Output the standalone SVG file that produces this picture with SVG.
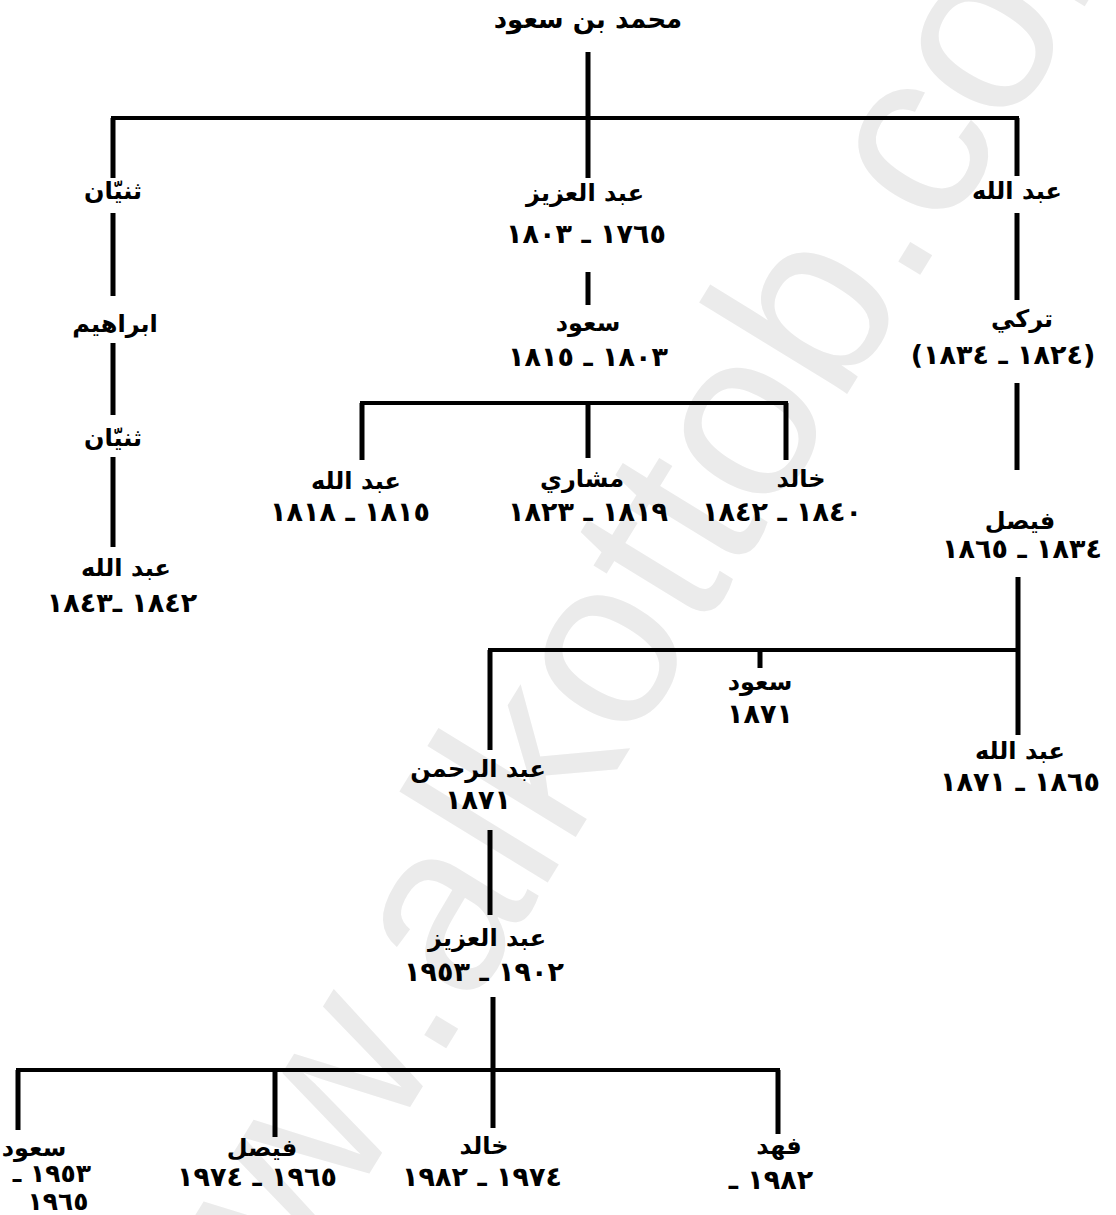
<svg xmlns="http://www.w3.org/2000/svg" width="1116" height="1215" viewBox="0 0 1116 1215">
<style>
.wm{font-family:"Liberation Sans",Arial,sans-serif;font-size:240px;fill:#ebebeb}
.n{font-family:"DejaVu Sans",sans-serif;font-weight:bold;font-size:24px;text-anchor:middle;direction:rtl;fill:#000}
.d{font-size:27px;letter-spacing:1px}
.s{font-size:25px;letter-spacing:1px}
.ln{stroke:#000;stroke-width:5;fill:none}
.bar{stroke:#000;stroke-width:4;fill:none}
</style>
<rect width="1116" height="1215" fill="#fff"/>
<text class="wm" transform="translate(170 1499) rotate(-58.5)">www.alkottob.com</text>
<g id="connectors">
<path class="ln" d="M588 52V118M113 118V178M588 118V178M1017 118V176M113 213V296M113 343V415M113 457V547M588 272V305M1017 213V300M1017 383V470M362 403V460M588 403V458M786 403V460M1018 577V650M490 650V750M760 650V668M1018 650V735M490 830V915M493 997V1128M18 1070V1130M275 1070V1137M778 1070V1134"/>
<path class="bar" d="M111 118H1019M360 403H788M488 650H1020M16 1070H780"/>
</g>
<g id="n-root"><text class="n" x="588" y="28" style="font-size:26px">محمد بن سعود</text></g>
<g id="n-thunayan1"><text class="n" x="113" y="199">ثنيّان</text></g>
<g id="n-ibrahim"><text class="n" x="115" y="332">ابراهيم</text></g>
<g id="n-thunayan2"><text class="n" x="113" y="446">ثنيّان</text></g>
<g id="n-abdullah-t"><text class="n" x="126" y="576">عبد الله</text><text class="n d" x="122" y="612">١٨٤٢ ـ١٨٤٣</text></g>
<g id="n-abdulaziz1"><text class="n" x="585" y="201">عبد العزيز</text><text class="n d" x="586" y="243">١٧٦٥ ـ ١٨٠٣</text></g>
<g id="n-saud1"><text class="n" x="588" y="331">سعود</text><text class="n d" x="588" y="366">١٨٠٣ ـ ١٨١٥</text></g>
<g id="n-abdullah-s"><text class="n" x="356" y="489">عبد الله</text><text class="n d" x="350" y="521">١٨١٥ ـ ١٨١٨</text></g>
<g id="n-mishari"><text class="n" x="582" y="487">مشاري</text><text class="n d" x="588" y="521">١٨١٩ ـ ١٨٢٣</text></g>
<g id="n-khalid1"><text class="n" x="801" y="487">خالد</text><text class="n d" x="782" y="521">١٨٤٠ ـ ١٨٤٢</text></g>
<g id="n-abdullah-r"><text class="n" x="1017" y="199">عبد الله</text></g>
<g id="n-turki"><text class="n" x="1022" y="327">تركي</text><text class="n d" x="1003" y="364">(١٨٢٤ ـ ١٨٣٤)</text></g>
<g id="n-faisal1"><text class="n" x="1020" y="529">فيصل</text><text class="n d" x="1022" y="558">١٨٣٤ ـ ١٨٦٥</text></g>
<g id="n-saud2"><text class="n" x="760" y="690">سعود</text><text class="n d" x="760" y="723">١٨٧١</text></g>
<g id="n-abdullah-f"><text class="n" x="1020" y="759">عبد الله</text><text class="n d" x="1020" y="791">١٨٦٥ ـ ١٨٧١</text></g>
<g id="n-abdulrahman"><text class="n" x="478" y="777">عبد الرحمن</text><text class="n d" x="478" y="809">١٨٧١</text></g>
<g id="n-abdulaziz2"><text class="n" x="487" y="946">عبد العزيز</text><text class="n d" x="484" y="981">١٩٠٢ ـ ١٩٥٣</text></g>
<g id="n-saud3"><text class="n" x="34" y="1156">سعود</text><text class="n s" x="52" y="1182">١٩٥٣ ـ</text><text class="n s" x="58" y="1210">١٩٦٥</text></g>
<g id="n-faisal2"><text class="n" x="262" y="1156">فيصل</text><text class="n d" x="257" y="1186">١٩٦٥ ـ ١٩٧٤</text></g>
<g id="n-khalid2"><text class="n" x="484" y="1154">خالد</text><text class="n d" x="482" y="1186">١٩٧٤ ـ ١٩٨٢</text></g>
<g id="n-fahd"><text class="n" x="779" y="1154">فهد</text><text class="n d" x="771" y="1189">١٩٨٢ ـ</text></g>
</svg>
